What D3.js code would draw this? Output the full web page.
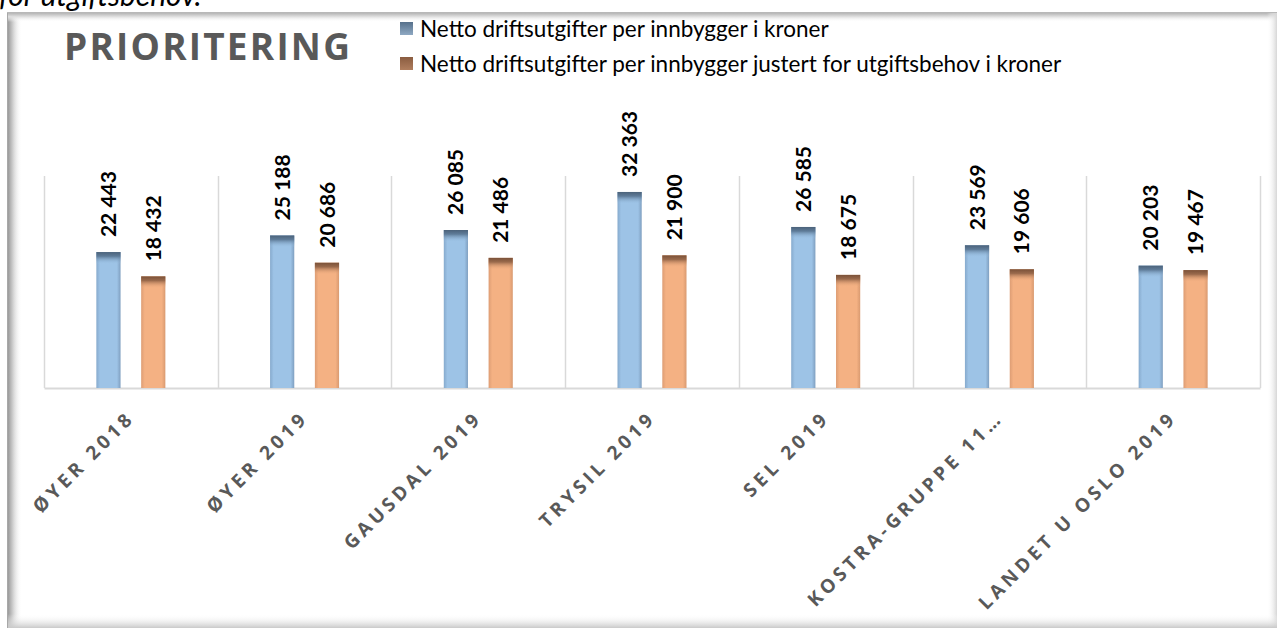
<!DOCTYPE html>
<html>
<head>
<meta charset="utf-8">
<script src="https://cdn.jsdelivr.net/npm/d3@7"></script>
<style>
  html, body { margin: 0; padding: 0; background: #fff; }
  svg { display: block; }
</style>
</head>
<body>
<svg id="chart" width="1277" height="628"></svg>
<script>
// Categories and series values (NOK per inhabitant)
const categories = ["ØYER 2018", "ØYER 2019", "GAUSDAL 2019", "TRYSIL 2019", "SEL 2019", "KOSTRA-GRUPPE 11…", "LANDET U OSLO 2019"];
const nettoDrift = [22443, 25188, 26085, 32363, 26585, 23569, 20203];
const nettoJustert = [18432, 20686, 21486, 21900, 18675, 19606, 19467];
const seriesNames = ["Netto driftsutgifter per innbygger i kroner", "Netto driftsutgifter per innbygger justert for utgiftsbehov i kroner"];
const yDomain = [0, 35000];

const svg = d3.select("#chart");
const W = 1277, H = 628;
const plot = { left: 44, right: 1260, top: 176, bottom: 388 };

const defs = svg.append("defs");
function linGrad(id, x2, y2, stops) {
  const g = defs.append("linearGradient").attr("id", id)
    .attr("x1", 0).attr("y1", 0).attr("x2", x2).attr("y2", y2);
  stops.forEach(s => g.append("stop").attr("offset", s[0]).attr("stop-color", s[1]).attr("stop-opacity", s[2] == null ? 1 : s[2]));
}
// Bar bodies: slightly darker at the side edges
linGrad("blueBody", 1, 0, [[0, "#86aacd"], [0.15, "#9dc3e6"], [0.85, "#9dc3e6"], [1, "#7f9fc0"]]);
linGrad("orangeBody", 1, 0, [[0, "#dd9d74"], [0.15, "#f4b183"], [0.85, "#f4b183"], [1, "#d99a70"]]);
// Bevelled top caps
linGrad("blueCap", 0, 1, [[0, "#4b627a"], [0.35, "#5f7c99"], [1, "#9dc3e6", 0]]);
linGrad("orangeCap", 0, 1, [[0, "#7a5138"], [0.35, "#9a6a4c"], [1, "#f4b183", 0]]);
// Frame inner shadows
linGrad("shadowL", 1, 0, [[0, "#9a9a9a"], [0.35, "#cfcfcf"], [1, "#ffffff", 0]]);
linGrad("shadowT", 0, 1, [[0, "#b5b5b5"], [0.4, "#dedede"], [1, "#ffffff", 0]]);
linGrad("shadowR", 1, 0, [[0, "#ffffff", 0], [1, "#d6d6d6"]]);
linGrad("shadowB", 0, 1, [[0, "#ffffff", 0], [1, "#c9c9c9"]]);

// Caption text above the frame (its upper part lies above the page)
svg.append("text").attr("x", -1).attr("y", 6)
  .attr("font-family", "Lato, 'Open Sans', sans-serif").attr("font-style", "italic")
  .attr("font-size", 30).attr("fill", "#000").text("for utgiftsbehov.");

// Chart frame
svg.append("rect").attr("x", 7).attr("y", 12).attr("width", W - 7).attr("height", H - 12).attr("fill", "#fff");
svg.append("rect").attr("x", 8).attr("y", 13).attr("width", 14).attr("height", H - 13).attr("fill", "url(#shadowL)");
svg.append("rect").attr("x", 8).attr("y", 13).attr("width", W - 8).attr("height", 9).attr("fill", "url(#shadowT)");
svg.append("rect").attr("x", W - 10).attr("y", 13).attr("width", 10).attr("height", H - 13).attr("fill", "url(#shadowR)");
svg.append("rect").attr("x", 8).attr("y", H - 14).attr("width", W - 8).attr("height", 14).attr("fill", "url(#shadowB)");
svg.append("line").attr("x1", 7.5).attr("x2", 7.5).attr("y1", 12).attr("y2", H).attr("stroke", "#a8a8a8");
svg.append("line").attr("x1", 7).attr("x2", W).attr("y1", 12.5).attr("y2", 12.5).attr("stroke", "#b8b8b8");

// Title
svg.append("text").attr("x", 64).attr("y", 60)
  .attr("font-family", "'Open Sans', sans-serif").attr("font-weight", 700)
  .attr("font-size", 37).attr("letter-spacing", 2.2).attr("fill", "#595959")
  .text("PRIORITERING");

// Legend
const legendColors = [["#8fa9c3", "#56708b"], ["#b07e5e", "#8a5c40"]];
const legend = svg.append("g").attr("font-family", "Lato, sans-serif").attr("font-size", 22.5).attr("fill", "#000");
seriesNames.forEach((name, i) => {
  const gy = 22 + i * 35;
  linGrad("leg" + i, 0, 1, [[0, legendColors[i][1]], [1, legendColors[i][0]]]);
  legend.append("rect").attr("x", 400).attr("y", gy).attr("width", 13).attr("height", 13).attr("fill", "url(#leg" + i + ")");
  legend.append("text").attr("x", 420).attr("y", gy + 15).text(name);
});

// Scales
const x0 = d3.scaleBand().domain(categories).range([plot.left, plot.right]).paddingInner(0).paddingOuter(0);
const bw = x0.bandwidth();
const x1 = d3.scaleBand().domain([0, 1]).range([bw / 2 - 34.5, bw / 2 + 34.5]).paddingInner(0.46).paddingOuter(0);
const y = d3.scaleLinear().domain(yDomain).range([plot.bottom, plot.top]);

// Vertical gridlines between categories
const bounds = categories.map(c => x0(c)).concat([plot.right]);
svg.append("g").selectAll("line").data(bounds).join("line")
  .attr("x1", d => Math.round(d) + 0.5).attr("x2", d => Math.round(d) + 0.5)
  .attr("y1", plot.top).attr("y2", plot.bottom)
  .attr("stroke", "#d9d9d9").attr("stroke-width", 1.5);

// Category axis
const xAxis = svg.append("g").attr("transform", `translate(0,${plot.bottom})`)
  .call(d3.axisBottom(x0).tickSize(0).tickSizeOuter(0));
xAxis.select(".domain").attr("stroke", "#d9d9d9").attr("stroke-width", 2);
xAxis.selectAll(".tick text")
  .attr("font-family", "'Open Sans', sans-serif").attr("font-weight", 700)
  .attr("font-size", 19).attr("letter-spacing", 4).attr("fill", "#595959")
  .attr("text-anchor", "end")
  .attr("dy", null).attr("y", 0)
  .attr("transform", "translate(5,31) rotate(-45)");

// Bars
const fmt = d3.formatLocale({ decimal: ",", thousands: " ", grouping: [3], currency: ["", ""] }).format(",d");
const series = [
  { values: nettoDrift, body: "url(#blueBody)", cap: "url(#blueCap)" },
  { values: nettoJustert, body: "url(#orangeBody)", cap: "url(#orangeCap)" }
];
const bars = svg.append("g");
series.forEach((s, si) => {
  const data = categories.map((c, i) => ({ c, v: s.values[i] }));
  const g = bars.append("g");
  g.selectAll("rect.body").data(data).join("rect").attr("class", "body")
    .attr("x", d => x0(d.c) + x1(si)).attr("width", x1.bandwidth())
    .attr("y", d => y(d.v)).attr("height", d => y(0) - y(d.v))
    .attr("fill", s.body);
  g.selectAll("rect.cap").data(data).join("rect").attr("class", "cap")
    .attr("x", d => x0(d.c) + x1(si)).attr("width", x1.bandwidth())
    .attr("y", d => y(d.v)).attr("height", d => Math.min(12, y(0) - y(d.v)))
    .attr("fill", s.cap);
  g.selectAll("text").data(data).join("text")
    .attr("transform", d => `translate(${x0(d.c) + x1(si) + x1.bandwidth() / 2},${y(d.v) - 15}) rotate(-90)`)
    .attr("dy", "0.36em")
    .attr("font-family", "Lato, sans-serif").attr("font-weight", 700)
    .attr("font-size", 21).attr("fill", "#000")
    .text(d => fmt(d.v));
});
</script>
</body>
</html>
